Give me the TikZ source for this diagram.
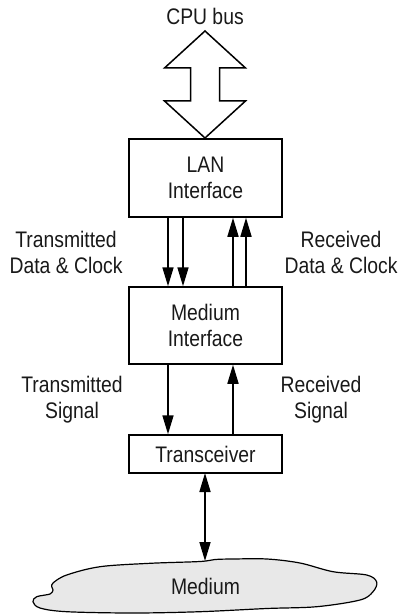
\documentclass[tikz,border=0pt]{standalone}
\usepackage{fontspec}
\setmainfont[FakeStretch=0.86]{Liberation Sans}
\usetikzlibrary{arrows.meta}
\begin{document}
\begin{tikzpicture}[x=1pt,y=-1pt,
  lbl/.style={font=\fontsize{22.5}{26}\selectfont, align=center, inner sep=0pt, text=black!90},
  blk/.style={draw, line width=1.5pt, minimum width=153pt, inner sep=0pt},
  conn/.style={line width=1.7pt, arrows={-Triangle[length=19pt,width=11pt]}},
  biconn/.style={line width=1.7pt, arrows={Triangle[length=19pt,width=11pt]-Triangle[length=19pt,width=11pt]}}]
\useasboundingbox (0,0) rectangle (399,615);
% CPU bus
\node[lbl] (cpu) at (205,16) {CPU bus};
\draw[line width=1.5pt, line join=miter] (205,31) -- (245.5,68) -- (219.5,68) -- (219.5,101) -- (245.5,101) -- (205,138) -- (164.5,101) -- (190.5,101) -- (190.5,68) -- (164.5,68) -- cycle;
% blocks
\node[blk, minimum height=78pt] (lan) at (205.5,178) {};
\node[lbl] (lant) at (205.5,178) {LAN\\Interface};
\node[blk, minimum height=77pt] (mi) at (205.5,325.5) {};
\node[lbl] (mit) at (205.5,325.5) {Medium\\Interface};
\node[blk, minimum height=38pt] (tr) at (205.5,454) {};
\node[lbl] (trt) at (205.5,454) {Transceiver};
% labels
\node[lbl] (tdc) at (66,252) {Transmitted\\Data \& Clock};
\node[lbl] (rdc) at (341,252) {Received\\Data \& Clock};
\node[lbl] (ts) at (72,400) {Transmitted\\Signal};
\node[lbl] (rs) at (321,400) {Received\\Signal};
% connectors LAN <-> MI
\draw[conn] (lan.south -| 168,0) -- (mi.north -| 168,0);
\draw[conn] (lan.south -| 183,0) -- (mi.north -| 183,0);
\draw[conn] (mi.north -| 233,0) -- (lan.south -| 233,0);
\draw[conn] (mi.north -| 246,0) -- (lan.south -| 246,0);
% MI <-> transceiver
\draw[conn] (mi.south -| 168,0) -- (tr.north -| 168,0);
\draw[conn] (tr.north -| 233,0) -- (mi.south -| 233,0);
% medium
\draw[line width=1.2pt, fill=black!9] plot[smooth cycle, tension=0.55] coordinates {
(51.7,586.7) (53.3,582.7) (66.7,575) (100,566.7) (150,563.3) (200,561.5) (215,559.5) (233,559) (267,559) (300,563) (333,571.7) (366.7,575) (376.7,582) (373,591.7) (360,600) (316.7,606.7) (266.7,608.5) (200,611.7) (133,613) (66.7,611.7) (40,608) (33,601.7) (36.7,596.7) (50,594) (53,590)};
\coordinate (trbot) at (205,473);
\coordinate (medtop) at (205,561);
\node[lbl] (med) at (205.5,586) {Medium};
\draw[biconn] (trbot) -- (medtop);
\end{tikzpicture}
\end{document}
